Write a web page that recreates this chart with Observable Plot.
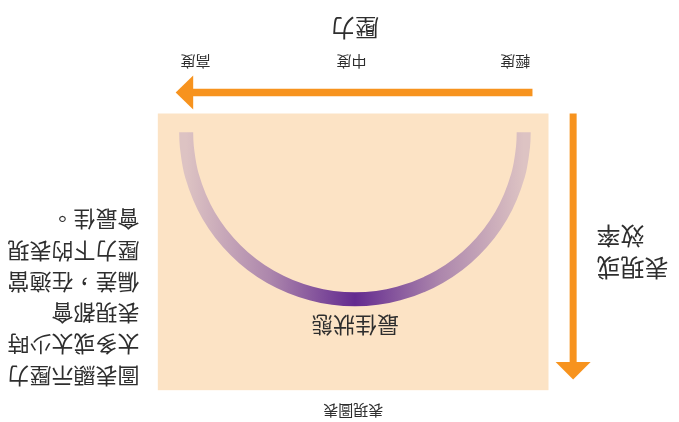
<!DOCTYPE html>
<html>
<head>
<meta charset="utf-8">
<script src="https://cdn.jsdelivr.net/npm/d3@7"></script>
<script src="https://cdn.jsdelivr.net/npm/@observablehq/plot@0.6"></script>
<style>
  html, body { margin: 0; padding: 0; background: #fff; overflow: hidden; }
  #wrap { width: 679px; height: 422px; transform: rotate(180deg); transform-origin: 50% 50%; }
  #wrap svg { display: block; }
</style>
</head>
<body>
<div id="wrap"></div>
<script>
// ---- data (chart units: pressure on x, performance on y) ----
const title = "表現圖表";
const xTitle = "壓力";
const yTitle = "表現或\n效率";
const peakLabel = "最佳狀態";
const note = "圖表顯示壓力\n太多或太少時\n表現都會\n偏差，在適當\n壓力下的表現\n會最佳。";

const pressureLevels = ["輕度", "中度", "高度"];
const pressureTicks = [-0.95, 0.02, 0.945];

// inverted-U performance curve
const curveX = [-1, -0.996, -0.966, -0.866, -0.707, -0.5, -0.259, 0, 0.259, 0.5, 0.707, 0.866, 0.966, 0.996, 1];
const curveY = [0, 0.087, 0.259, 0.5, 0.707, 0.866, 0.966, 1, 0.966, 0.866, 0.707, 0.5, 0.259, 0.087, 0];

// axis arrows (chart units)
const xArrow = {x1: -1.052, x2: 0.99, tip: 1.062, y: -0.238};
const yArrow = {y1: -0.112, y2: 1.41, tip: 1.481, x: -1.293};

// label anchor positions (chart units)
const titlePos = [0.01, 1.662];
const peakPos = [0, 1.151];
const tickY = -0.425;
const xTitlePos = [0, -0.633];
const yTitlePos = [-1.431, 0.726];
const notePos = [1.276, 1.002];

const curve = curveX.map((x, i) => ({x, y: curveY[i]}));
const ticks = pressureLevels.map((label, i) => ({label, x: pressureTicks[i], y: tickY}));

const orange = "#F7931E";
const textColor = "#2e2e2e";
const font = "'Noto Sans CJK TC', 'Noto Sans', sans-serif";

const headUp = {draw(ctx) { ctx.moveTo(0, 0); ctx.lineTo(17.5, 17.5); ctx.lineTo(-17.5, 17.5); ctx.closePath(); }};
const headRight = {draw(ctx) { ctx.moveTo(0, 0); ctx.lineTo(-17.5, 17); ctx.lineTo(-17.5, -17); ctx.closePath(); }};

const chart = Plot.plot({
  width: 679,
  height: 422,
  marginLeft: 130,
  marginRight: 158.3,
  marginTop: 31.3,
  marginBottom: 114,
  x: {domain: [-1.147, 1.168], axis: null},
  y: {domain: [-0.112, 1.545], axis: null},
  style: {fontFamily: font, background: "#ffffff", color: textColor, overflow: "visible"},
  marks: [
    Plot.frame({fill: "#FCE3C5", stroke: "none"}),
    Plot.line(curve, {x: "x", y: "y", stroke: "url(#arcGrad)", strokeWidth: 14, strokeLinecap: "butt", curve: "catmull-rom"}),
    Plot.text([peakLabel], {x: () => peakPos[0], y: () => peakPos[1], text: d => d, fontSize: 22, fill: textColor, textAnchor: "middle", lineAnchor: "middle"}),
    Plot.text([title], {x: () => titlePos[0], y: () => titlePos[1], text: d => d, fontSize: 15, fill: textColor, textAnchor: "middle", lineAnchor: "middle"}),
    // x arrow
    Plot.link([xArrow], {x1: "x1", x2: "x2", y1: "y", y2: "y", stroke: orange, strokeWidth: 7.5, strokeLinecap: "butt"}),
    Plot.dot([xArrow], {x: "tip", y: "y", symbol: headRight, fill: orange, stroke: "none"}),
    // y arrow
    Plot.link([yArrow], {x1: "x", x2: "x", y1: "y1", y2: "y2", stroke: orange, strokeWidth: 7, strokeLinecap: "butt"}),
    Plot.dot([yArrow], {x: "x", y: "tip", symbol: headUp, fill: orange, stroke: "none"}),
    // tick labels
    Plot.text(ticks, {x: "x", y: "y", text: "label", fontSize: 15, fill: textColor, textAnchor: "middle", lineAnchor: "middle"}),
    Plot.text([xTitle], {x: () => xTitlePos[0], y: () => xTitlePos[1], text: d => d, fontSize: 24, fill: textColor, textAnchor: "middle", lineAnchor: "middle"}),
    Plot.text([yTitle], {x: () => yTitlePos[0], y: () => yTitlePos[1], text: d => d, fontSize: 24, lineHeight: 1.33, fill: textColor, textAnchor: "end", lineAnchor: "middle"}),
    Plot.text([note], {x: () => notePos[0], y: () => notePos[1], text: d => d, fontSize: 22, lineHeight: 1.42, fill: textColor, textAnchor: "start", lineAnchor: "middle"})
  ]
});

const svg = d3.select(chart);
const grad = svg.insert("defs", ":first-child").append("linearGradient")
  .attr("id", "arcGrad").attr("x1", "0").attr("x2", "1").attr("y1", "0").attr("y2", "0");
[[0, "#DDC3C3"], [0.25, "#AC86AC"], [0.5, "#632A8F"], [0.75, "#AC86AC"], [1, "#DDC3C3"]].forEach(([o, c]) => {
  grad.append("stop").attr("offset", o).attr("stop-color", c);
});

document.getElementById("wrap").appendChild(chart);
</script>
</body>
</html>
